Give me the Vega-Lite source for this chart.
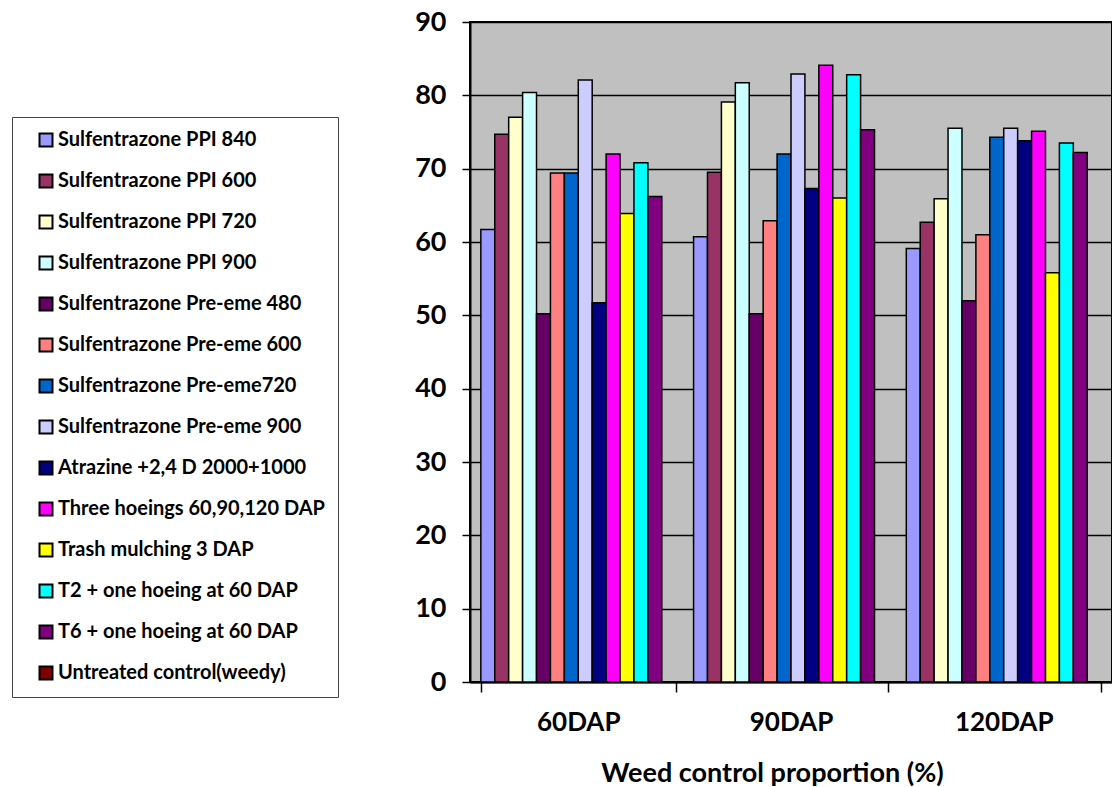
{
  "$schema": "https://vega.github.io/schema/vega-lite/v6.json",
  "autosize": {"type": "none"},
  "padding": {"left": 470, "top": 22, "right": 0, "bottom": 105},
  "width": 642,
  "height": 660,
  "background": "white",
  "config": {
    "font": "Lato",
    "view": {"fill": "#C0C0C0", "stroke": "black", "strokeWidth": 2}
  },
  "data": {
    "values": [
      {"stage": "60DAP", "treatment": "Sulfentrazone PPI 840", "control": 61.7},
      {"stage": "60DAP", "treatment": "Sulfentrazone PPI 600", "control": 74.7},
      {"stage": "60DAP", "treatment": "Sulfentrazone PPI 720", "control": 77.0},
      {"stage": "60DAP", "treatment": "Sulfentrazone PPI 900", "control": 80.4},
      {"stage": "60DAP", "treatment": "Sulfentrazone Pre-eme 480", "control": 50.2},
      {"stage": "60DAP", "treatment": "Sulfentrazone Pre-eme 600", "control": 69.4},
      {"stage": "60DAP", "treatment": "Sulfentrazone Pre-eme720", "control": 69.4},
      {"stage": "60DAP", "treatment": "Sulfentrazone  Pre-eme 900", "control": 82.1},
      {"stage": "60DAP", "treatment": "Atrazine +2,4 D 2000+1000", "control": 51.7},
      {"stage": "60DAP", "treatment": "Three hoeings 60,90,120 DAP", "control": 72.0},
      {"stage": "60DAP", "treatment": "Trash mulching 3 DAP", "control": 63.9},
      {"stage": "60DAP", "treatment": "T2 + one hoeing at 60 DAP", "control": 70.8},
      {"stage": "60DAP", "treatment": "T6 + one hoeing at 60 DAP", "control": 66.2},
      {"stage": "60DAP", "treatment": "Untreated control(weedy)", "control": 0},
      {"stage": "90DAP", "treatment": "Sulfentrazone PPI 840", "control": 60.7},
      {"stage": "90DAP", "treatment": "Sulfentrazone PPI 600", "control": 69.5},
      {"stage": "90DAP", "treatment": "Sulfentrazone PPI 720", "control": 79.1},
      {"stage": "90DAP", "treatment": "Sulfentrazone PPI 900", "control": 81.7},
      {"stage": "90DAP", "treatment": "Sulfentrazone Pre-eme 480", "control": 50.2},
      {"stage": "90DAP", "treatment": "Sulfentrazone Pre-eme 600", "control": 62.9},
      {"stage": "90DAP", "treatment": "Sulfentrazone Pre-eme720", "control": 72.0},
      {"stage": "90DAP", "treatment": "Sulfentrazone  Pre-eme 900", "control": 82.9},
      {"stage": "90DAP", "treatment": "Atrazine +2,4 D 2000+1000", "control": 67.3},
      {"stage": "90DAP", "treatment": "Three hoeings 60,90,120 DAP", "control": 84.1},
      {"stage": "90DAP", "treatment": "Trash mulching 3 DAP", "control": 66.0},
      {"stage": "90DAP", "treatment": "T2 + one hoeing at 60 DAP", "control": 82.8},
      {"stage": "90DAP", "treatment": "T6 + one hoeing at 60 DAP", "control": 75.3},
      {"stage": "90DAP", "treatment": "Untreated control(weedy)", "control": 0},
      {"stage": "120DAP", "treatment": "Sulfentrazone PPI 840", "control": 59.1},
      {"stage": "120DAP", "treatment": "Sulfentrazone PPI 600", "control": 62.7},
      {"stage": "120DAP", "treatment": "Sulfentrazone PPI 720", "control": 65.9},
      {"stage": "120DAP", "treatment": "Sulfentrazone PPI 900", "control": 75.5},
      {"stage": "120DAP", "treatment": "Sulfentrazone Pre-eme 480", "control": 52.0},
      {"stage": "120DAP", "treatment": "Sulfentrazone Pre-eme 600", "control": 61.0},
      {"stage": "120DAP", "treatment": "Sulfentrazone Pre-eme720", "control": 74.3},
      {"stage": "120DAP", "treatment": "Sulfentrazone  Pre-eme 900", "control": 75.5},
      {"stage": "120DAP", "treatment": "Atrazine +2,4 D 2000+1000", "control": 73.8},
      {"stage": "120DAP", "treatment": "Three hoeings 60,90,120 DAP", "control": 75.1},
      {"stage": "120DAP", "treatment": "Trash mulching 3 DAP", "control": 55.8},
      {"stage": "120DAP", "treatment": "T2 + one hoeing at 60 DAP", "control": 73.5},
      {"stage": "120DAP", "treatment": "T6 + one hoeing at 60 DAP", "control": 72.2},
      {"stage": "120DAP", "treatment": "Untreated control(weedy)", "control": 0}
    ]
  },
  "mark": {"type": "bar", "stroke": "black", "strokeWidth": 1.5},
  "encoding": {
    "x": {
      "field": "stage",
      "type": "nominal",
      "sort": ["60DAP", "90DAP", "120DAP"],
      "scale": {"paddingInner": 0.084, "paddingOuter": 0.051},
      "axis": {
        "title": "Weed control proportion (%)",
        "labelAngle": 0,
        "labelFont": "Lato",
        "labelFontSize": 26,
        "labelFontWeight": "bold",
        "labelColor": "black",
        "labelPadding": 17,
        "tickBand": "extent",
        "tickSize": 10,
        "tickColor": "black",
        "tickWidth": 1.5,
        "domainColor": "black",
        "domainWidth": 2,
        "titleFont": "Lato",
        "titleFontSize": 27,
        "titleFontWeight": "bold",
        "titleColor": "black",
        "titleX": 302,
        "titleY": 91,
        "titleAlign": "center",
        "titleBaseline": "middle"
      }
    },
    "xOffset": {
      "field": "treatment",
      "type": "nominal",
      "sort": null,
      "scale": {"paddingInner": 0, "paddingOuter": 0}
    },
    "y": {
      "field": "control",
      "type": "quantitative",
      "scale": {"domain": [0, 90], "nice": false},
      "axis": {
        "title": null,
        "values": [0, 10, 20, 30, 40, 50, 60, 70, 80, 90],
        "labelFont": "Lato",
        "labelFontSize": 27,
        "labelFontWeight": "bold",
        "labelColor": "black",
        "labelPadding": 16,
        "tickSize": 8,
        "tickColor": "black",
        "tickWidth": 1.5,
        "domainColor": "black",
        "domainWidth": 2,
        "grid": true,
        "gridColor": "black",
        "gridWidth": 1.5
      }
    },
    "color": {
      "field": "treatment",
      "type": "nominal",
      "sort": null,
      "scale": {
        "domain": [
          "Sulfentrazone PPI 840",
          "Sulfentrazone PPI 600",
          "Sulfentrazone PPI 720",
          "Sulfentrazone PPI 900",
          "Sulfentrazone Pre-eme 480",
          "Sulfentrazone Pre-eme 600",
          "Sulfentrazone Pre-eme720",
          "Sulfentrazone  Pre-eme 900",
          "Atrazine +2,4 D 2000+1000",
          "Three hoeings 60,90,120 DAP",
          "Trash mulching 3 DAP",
          "T2 + one hoeing at 60 DAP",
          "T6 + one hoeing at 60 DAP",
          "Untreated control(weedy)"
        ],
        "range": [
          "#9999FF", "#993366", "#FFFFCC", "#CCFFFF", "#660066", "#FF8080", "#0066CC",
          "#CCCCFF", "#000080", "#FF00FF", "#FFFF00", "#00FFFF", "#800080", "#800000"
        ]
      },
      "legend": {
        "title": null,
        "orient": "none",
        "legendX": -458,
        "legendY": 95,
        "padding": 13,
        "strokeColor": "#444444",
        "fillColor": "white",
        "symbolType": "square",
        "symbolSize": 169,
        "symbolStrokeColor": "black",
        "symbolStrokeWidth": 2,
        "symbolOffset": 11,
        "labelFont": "Lato",
        "labelFontSize": 20,
        "labelFontWeight": "bold",
        "labelColor": "black",
        "labelOffset": 2,
        "labelLimit": 400,
        "rowPadding": 19
      }
    }
  }
}
